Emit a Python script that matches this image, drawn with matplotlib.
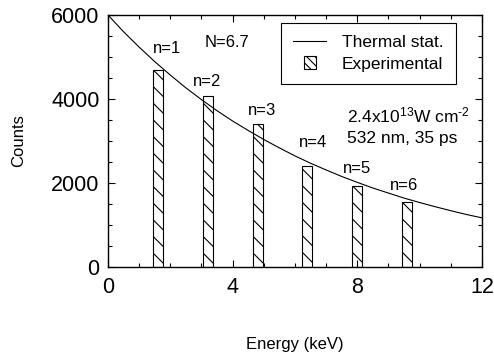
import numpy as np
import matplotlib.pyplot as plt
from matplotlib.patches import Rectangle
from matplotlib.lines import Line2D
from matplotlib.legend_handler import HandlerPatch
from matplotlib.ticker import MultipleLocator

plt.rcParams['font.family'] = ['Liberation Sans', 'DejaVu Sans']
plt.rcParams['mathtext.fontset'] = 'custom'
plt.rcParams['mathtext.rm'] = 'Liberation Sans'
plt.rcParams['mathtext.it'] = 'Liberation Sans:italic'
plt.rcParams['hatch.linewidth'] = 0.8

# measured peaks (n photons absorbed), energy in keV
orders = [1, 2, 3, 4, 5, 6]
peak_energy = [1.6, 3.2, 4.8, 6.4, 8.0, 9.6]
peak_counts = [4700, 4080, 3400, 2400, 1930, 1550]

# thermal statistics curve, N = 6.7
thermal_energy = [0, 0.5, 1, 1.5, 2, 2.5, 3, 3.5, 4, 4.5, 5, 5.5, 6,
                  6.5, 7, 7.5, 8, 8.5, 9, 9.5, 10, 10.5, 11, 11.5, 12]
thermal_counts = [6000, 5600, 5235, 4890, 4570, 4265, 3985, 3720, 3475,
                  3250, 3035, 2835, 2645, 2470, 2310, 2155, 2015, 1880,
                  1760, 1640, 1535, 1435, 1340, 1250, 1170]

# label anchor points (keV, counts)
label_x = [1.89, 3.18, 4.94, 6.58, 7.99, 9.5]
label_y = [5214, 4405, 3738, 2976, 2357, 1952]

fig = plt.figure(figsize=(4.94, 3.58), dpi=100)
ax = fig.add_axes([0.2186, 0.2542, 0.7571, 0.7039])

ax.plot(thermal_energy, thermal_counts, color='black', lw=0.8)
ax.bar(peak_energy, peak_counts, width=0.32, color='white',
       edgecolor='black', linewidth=0.8, hatch='\\\\')

for n, x, y in zip(orders, label_x, label_y):
    ax.text(x, y, f'n={n}', ha='center', va='center', fontsize=12)

ax.text(3.82, 5357, 'N=6.7', ha='center', va='center', fontsize=12)
ax.text(7.67, 3452, r'2.4x10$^{13}$W cm$^{\text{-2}}$', ha='left',
        va='baseline', fontsize=12.5)
ax.text(7.67, 2952, '532 nm, 35 ps', ha='left', va='baseline', fontsize=12.5)

ax.set_xlim(0, 12)
ax.set_ylim(0, 6000)
ax.xaxis.set_major_locator(MultipleLocator(4))
ax.xaxis.set_minor_locator(MultipleLocator(1))
ax.yaxis.set_major_locator(MultipleLocator(2000))
ax.yaxis.set_minor_locator(MultipleLocator(500))
ax.tick_params(which='both', direction='in', top=True, right=True,
               width=0.8, labelsize=15.5)
ax.tick_params(which='major', length=5)
ax.tick_params(which='minor', length=3)
ax.tick_params(axis='y', pad=6)
ax.tick_params(axis='x', pad=7)
for s in ax.spines.values():
    s.set_linewidth(1.0)

ax.set_xlabel('Energy (keV)', fontsize=12, labelpad=28)
ax.set_ylabel('Counts', fontsize=12, labelpad=18)


def small_square(legend, orig_handle, xdescent, ydescent, width, height,
                 fontsize):
    side = height * 1.05
    return Rectangle((width / 2 - side / 2 - xdescent,
                      -ydescent + (height - side) / 2), side, side)


handles = [Line2D([], [], color='black', lw=0.8),
           Rectangle((0, 0), 1, 1, facecolor='white', edgecolor='black',
                     linewidth=0.8, hatch='\\\\\\\\')]
leg = ax.legend(handles, ['Thermal stat.', 'Experimental'],
                loc='upper right', bbox_to_anchor=(0.93, 0.968),
                borderaxespad=0, fontsize=12.5, frameon=True, fancybox=False,
                edgecolor='black', framealpha=1, handlelength=1.9,
                handletextpad=0.9, borderpad=0.7, labelspacing=0.35,
                handler_map={Rectangle: HandlerPatch(patch_func=small_square)})
leg.get_frame().set_linewidth(0.8)

fig.savefig('out.png', dpi=100)
